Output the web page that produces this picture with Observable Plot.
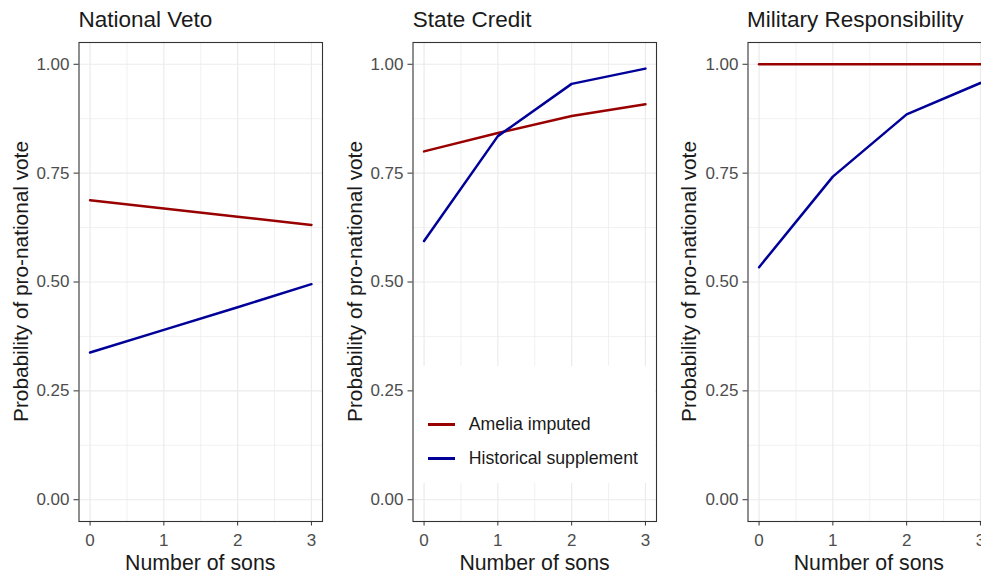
<!DOCTYPE html>
<html>
<head>
<meta charset="utf-8">
<script src="https://cdn.jsdelivr.net/npm/d3@7"></script>
<script src="https://cdn.jsdelivr.net/npm/@observablehq/plot@0.6"></script>
<style>
  html, body { margin: 0; padding: 0; background: #fff; }
  #chart { position: relative; width: 981px; height: 576px; overflow: hidden; background: #fff;
           font-family: "Liberation Sans", Arial, sans-serif; }
  .panel { position: absolute; top: 0; }
  #overlay { position: absolute; left: 0; top: 0; pointer-events: none; }
  #legend { position: absolute; background: #fff; }
  #legend .row { position: absolute; left: 0; height: 18px; display: flex; align-items: center; }
  #legend .key { width: 27px; height: 3px; margin-left: 14px; }
  #legend .lab { margin-left: 14px; font-size: 17.7px; color: #1a1a1a; line-height: 18px; }
</style>
</head>
<body>
<div id="chart"></div>
<script>
// ---- data ----
const sons = [0, 1, 2, 3];
const seriesNames = ["Amelia imputed", "Historical supplement"];
const seriesColors = ["#990000", "#000099"];
const panelTitles = ["National Veto", "State Credit", "Military Responsibility"];

const vetoAmelia = [0.688, 0.669, 0.650, 0.631];
const vetoHist = [0.338, 0.390, 0.442, 0.495];
const creditAmelia = [0.800, 0.842, 0.881, 0.908];
const creditHist = [0.594, 0.835, 0.955, 0.990];
const militaryAmelia = [1.0, 1.0, 1.0, 1.0];
const militaryHist = [0.534, 0.742, 0.885, 0.957];

const xTicks = [0, 1, 2, 3];
const xMinor = [0.5, 1.5, 2.5];
const yTicks = [0, 0.25, 0.5, 0.75, 1];
const yMinor = [0.125, 0.375, 0.625, 0.875];

const xTitle = "Number of sons";
const yTitle = "Probability of pro-national vote";

// ---- layout ----
const FONT = "'Liberation Sans', Arial, sans-serif";
const panelStep = 334.3;
const svgW = 335, svgH = 576;
const mL = 78.5, mR = 13, mT = 42, mB = 55;

const panelSeries = [
  [vetoAmelia, vetoHist],
  [creditAmelia, creditHist],
  [militaryAmelia, militaryHist]
];

const chart = document.getElementById("chart");

panelSeries.forEach((vals, i) => {
  const data = [];
  vals.forEach((arr, s) => sons.forEach((x, j) => data.push({sons: x, p: arr[j], series: seriesNames[s]})));
  const plot = Plot.plot({
    width: svgW, height: svgH,
    marginLeft: mL, marginRight: mR, marginTop: mT, marginBottom: mB,
    x: {domain: [-0.15, 3.15]},
    y: {domain: [-0.05, 1.05]},
    color: {domain: seriesNames, range: seriesColors},
    style: {fontFamily: FONT, background: "transparent", overflow: "visible"},
    marks: [
      Plot.gridY(yMinor, {stroke: "#ebebeb", strokeOpacity: 1, strokeWidth: 0.7}),
      Plot.gridX(xMinor, {stroke: "#ebebeb", strokeOpacity: 1, strokeWidth: 0.7}),
      Plot.gridY(yTicks, {stroke: "#ebebeb", strokeOpacity: 1, strokeWidth: 1.2}),
      Plot.gridX(xTicks, {stroke: "#ebebeb", strokeOpacity: 1, strokeWidth: 1.2}),
      Plot.line(data, {x: "sons", y: "p", stroke: "series", z: "series", strokeWidth: 2.5}),
      Plot.frame({stroke: "#333333", strokeWidth: 1.1}),
      Plot.axisX(xTicks, {tickSize: 4.5, tickPadding: 8, fontSize: 17, stroke: "#333333", fill: "#4d4d4d", label: null, tickFormat: d3.format("d")}),
      Plot.axisY(yTicks, {tickSize: 5, tickPadding: 4.5, fontSize: 17, stroke: "#333333", fill: "#4d4d4d", label: null, tickFormat: d3.format(".2f")})
    ]
  });
  plot.classList.add("panel");
  plot.style.left = (i * panelStep) + "px";
  chart.appendChild(plot);
});

// legend inside the second panel
const legend = document.createElement("div");
legend.id = "legend";
legend.style.left = (panelStep + mL + 1) + "px";
legend.style.top = "366px";
legend.style.width = (svgW - mL - mR - 2) + "px";
legend.style.height = "117px";
seriesNames.forEach((name, k) => {
  const row = document.createElement("div");
  row.className = "row";
  row.style.top = (49 + k * 34) + "px";
  const key = document.createElement("div");
  key.className = "key";
  key.style.background = seriesColors[k];
  const lab = document.createElement("div");
  lab.className = "lab";
  lab.textContent = name;
  row.appendChild(key); row.appendChild(lab);
  legend.appendChild(row);
});
chart.appendChild(legend);

// titles and axis titles
const svg = d3.select(chart).append("svg").attr("id", "overlay").attr("width", 981).attr("height", 576)
  .style("font-family", FONT);
const frameW = svgW - mL - mR;
panelTitles.forEach((t, i) => {
  const off = i * panelStep;
  svg.append("text").attr("x", off + mL).attr("y", 26.5).attr("font-size", 22.5).attr("fill", "#1a1a1a").text(t);
  svg.append("text").attr("x", off + mL + frameW / 2).attr("y", 570).attr("text-anchor", "middle")
    .attr("font-size", 21.3).attr("fill", "#1a1a1a").text(xTitle);
  svg.append("text").attr("transform", `translate(${off + 27.5},${(mT + svgH - mB) / 2}) rotate(-90)`)
    .attr("text-anchor", "middle").attr("font-size", 20.8).attr("fill", "#1a1a1a").text(yTitle);
});
</script>
</body>
</html>
